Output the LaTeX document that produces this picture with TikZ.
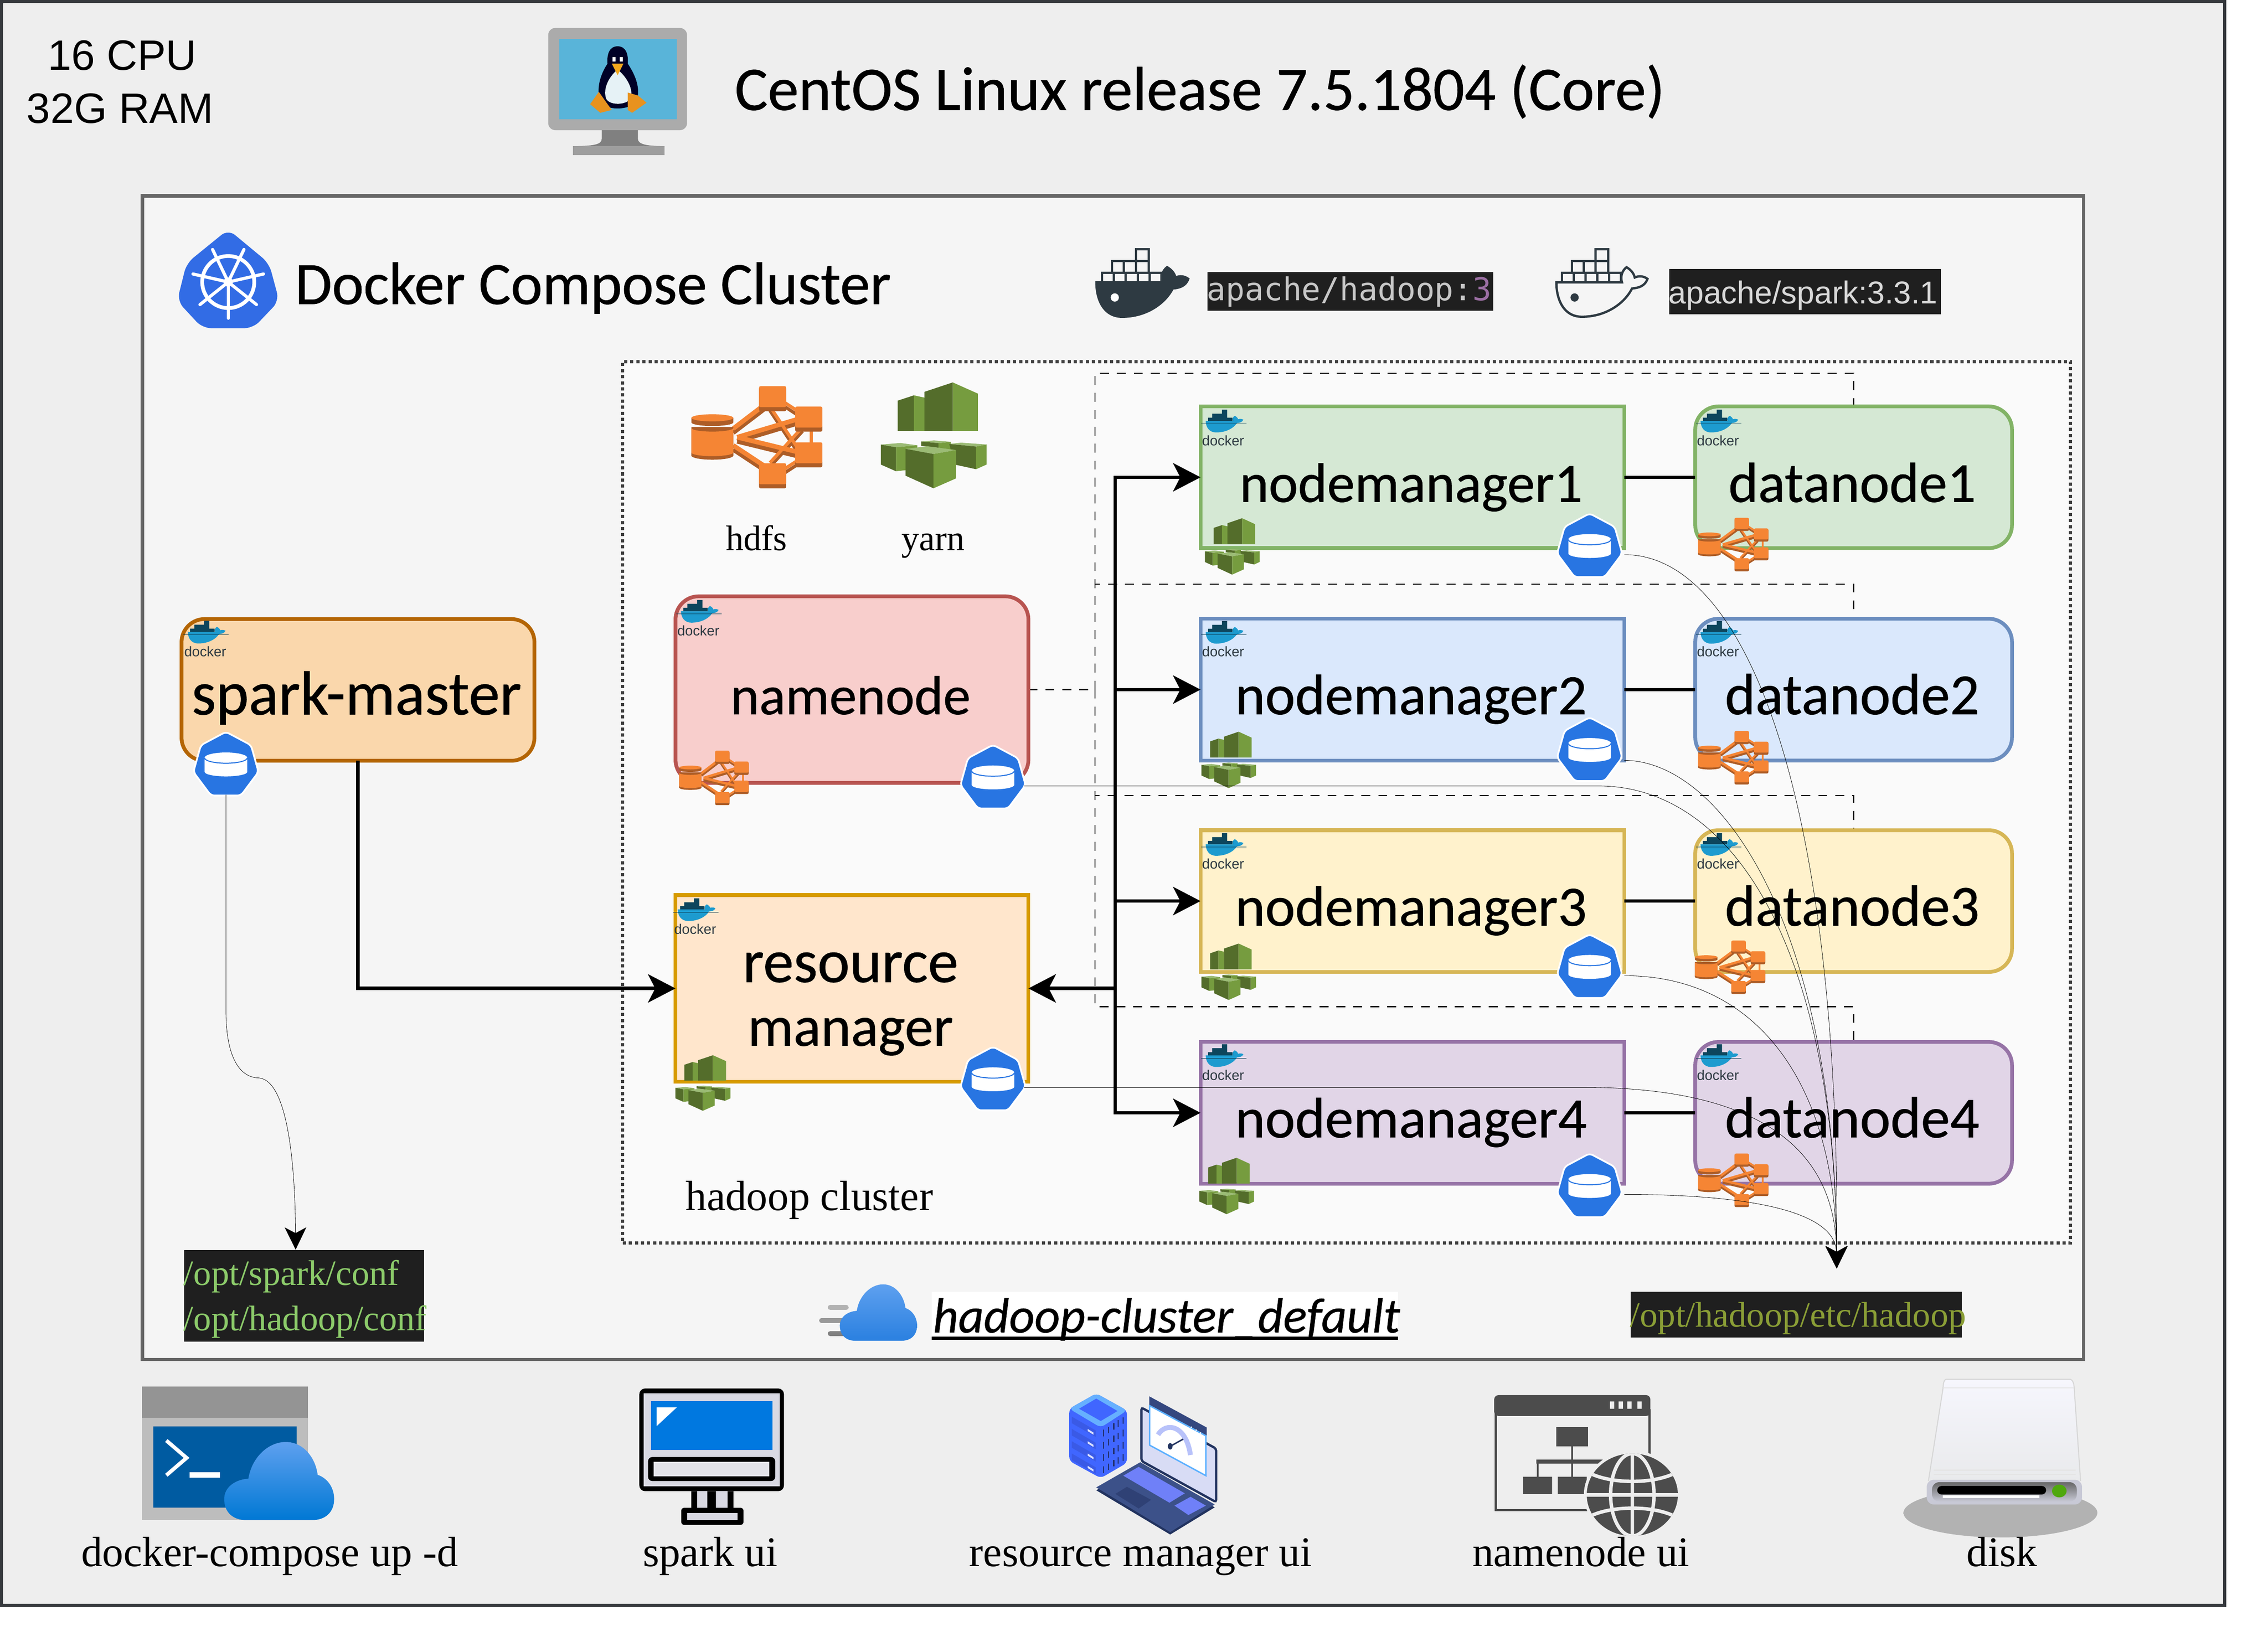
\documentclass[tikz,border=0pt]{standalone}
\usepackage{fontspec}
\setmainfont{Liberation Serif}
\newfontfamily\helv{Liberation Sans}
\newfontfamily\mymono{DejaVu Sans Mono}
\newfontfamily\comic[FakeBold=0.6]{Carlito}
\usetikzlibrary{arrows.meta,shadings}
\pgfdeclarelayer{bg}\pgfdeclarelayer{conn}\pgfsetlayers{bg,conn,main}
\newcommand\rw[2]{\resizebox{#1pt}{!}{#2}}
\newcommand\cw[2]{\resizebox{#1pt}{!}{\comic #2}\kern1pt}
\definecolor{orng}{HTML}{F58534}\definecolor{orngd}{HTML}{AD5D27}
\definecolor{ygl}{HTML}{769C3F}\definecolor{ygm}{HTML}{546D2B}\definecolor{ygt}{HTML}{9BBB75}
\definecolor{hexb}{HTML}{2875E2}\definecolor{kub}{HTML}{326CE5}
\definecolor{whb}{HTML}{1D9BCF}\definecolor{whd}{HTML}{2E3A42}
\definecolor{pan}{HTML}{EEEEEE}\definecolor{inn}{HTML}{F5F5F5}\definecolor{clu}{HTML}{FAFAFA}
\definecolor{n1f}{HTML}{D5E8D4}\definecolor{n1d}{HTML}{82B366}
\definecolor{n2f}{HTML}{DAE8FC}\definecolor{n2d}{HTML}{6C8EBF}
\definecolor{n3f}{HTML}{FFF2CC}\definecolor{n3d}{HTML}{D6B656}
\definecolor{n4f}{HTML}{E1D5E7}\definecolor{n4d}{HTML}{9673A6}
\definecolor{nnf}{HTML}{F8CECC}\definecolor{nnd}{HTML}{B85450}
\definecolor{rmf}{HTML}{FFE6CC}\definecolor{rmd}{HTML}{D79B00}
\definecolor{spf}{HTML}{FAD7AC}\definecolor{spd}{HTML}{B46504}
\definecolor{cscr}{HTML}{59B4D9}\definecolor{cbel}{HTML}{E6F2F6}\definecolor{cft}{HTML}{E8921E}\definecolor{cbk}{HTML}{F2A81D}
\definecolor{cc1}{HTML}{5EA0EF}\definecolor{cc2}{HTML}{2A80E0}\definecolor{cc3}{HTML}{0078D4}\definecolor{cpan}{HTML}{005BA1}
\definecolor{mg}{HTML}{D9D9E3}\definecolor{mb}{HTML}{0078E0}\definecolor{mg2}{HTML}{E3E3E9}
\definecolor{bl1}{HTML}{4066FF}\definecolor{bl2}{HTML}{3A5AE6}\definecolor{bl3}{HTML}{66B0FF}\definecolor{bl5}{HTML}{1F2A60}
\definecolor{lp1}{HTML}{34477F}\definecolor{lp2}{HTML}{22335F}\definecolor{lp3}{HTML}{D8DCF5}\definecolor{lp4}{HTML}{B8C2FA}\definecolor{lp5}{HTML}{3C5189}\definecolor{lp6}{HTML}{6F80F8}\definecolor{lp7}{HTML}{2F4175}\definecolor{lp8}{HTML}{5CB0FF}
\definecolor{dk1}{HTML}{F6F6FD}\definecolor{dk2}{HTML}{E9EAEC}\definecolor{dk3}{HTML}{C8C9D6}\definecolor{dk4}{HTML}{666666}\definecolor{led}{HTML}{4FA80E}\definecolor{outl}{HTML}{36393D}
\definecolor{shd}{HTML}{B2B2B2}
\pgfdeclareradialshading{diskshadow}{\pgfpoint{0bp}{0bp}}{color(0bp)=(shd); color(26bp)=(shd); color(50bp)=(pan)}
\tikzset{
 x=.5pt,y=-.5pt,
 frame/.style={draw,line width=1.2pt,outer sep=0pt},
 plainbox/.style={draw,line width=1.3pt,inner sep=0pt,outer sep=0pt,align=center},
 box/.style={plainbox,text height=17pt,text depth=0pt},
 rbox/.style={box,rounded corners=8pt},
 nmw/.style={minimum width=146.5pt,minimum height=49pt},
 dnw/.style={minimum width=109.5pt,minimum height=49pt},
 nnw/.style={minimum width=122pt,minimum height=64.5pt},
 link/.style={line width=1.2pt},
 bigarrow/.style={link,-{Stealth[length=9.5pt,width=9.8pt,inset=2.5pt]}},
 hair/.style={line width=.13pt,black},
 hairarrow/.style={hair,-{Stealth[length=7.7pt,width=7.5pt,inset=2pt]}},
 tree/.style={line width=.35pt,black,dash pattern=on 3.1pt off 2.75pt},
 lab/.style={inner sep=0pt,outer sep=0pt,anchor=base,font=\fontsize{14.6pt}{16pt}\selectfont},
 labl/.style={lab,anchor=base west},
}
% whale icon: x y w h colour linewidth hullfill windowfill eyefill
\newcommand\whaleicon[9]{\begin{scope}[shift={(#1,#2)},xscale=#3,yscale=#4]
 \draw[#5,fill=#7,line width=#6] (0,.5) -- (.72,.5) .. controls (.70,.42) and (.72,.33) .. (.77,.28) .. controls (.82,.32) and (.85,.37) .. (.86,.43) .. controls (.91,.40) and (.96,.41) .. (1,.45) .. controls (.97,.56) and (.90,.58) .. (.83,.59) .. controls (.75,.80) and (.55,1) .. (.28,1) .. controls (.08,1) and (0,.75) .. (0,.5) -- cycle;
 \foreach \a/\b/\c/\d in {.43/.02/.57/.19,.17/.19/.30/.36,.30/.19/.43/.36,.43/.19/.57/.36,.06/.36/.19/.5,.19/.36/.32/.5,.32/.36/.45/.5,.45/.36/.58/.5,.58/.36/.71/.5}
  \draw[#5,fill=#8,line width=#6] (\a,\b) rectangle (\c,\d);
 \fill[#9] (.2,.72) ellipse (.045 and .06);
\end{scope}}
\newcommand\dockersmall[2]{\begin{scope}[shift={(#1,#2)}]
 \begin{scope}[shift={(3,0)},xscale=26,yscale=16]
 \fill[whb] (0,.5) -- (.72,.5) .. controls (.70,.42) and (.72,.33) .. (.77,.28) .. controls (.82,.32) and (.85,.37) .. (.86,.43) .. controls (.91,.40) and (.96,.41) .. (1,.45) .. controls (.97,.56) and (.90,.58) .. (.83,.59) .. controls (.75,.80) and (.55,1) .. (.28,1) .. controls (.08,1) and (0,.75) .. (0,.5) -- cycle;
 \fill[black!55!whb] (.43,.02) rectangle (.57,.19) (.17,.19) rectangle (.57,.36) (.06,.36) rectangle (.71,.5);
 \draw[whb!40!black,line width=.15pt] (-.12,.62) -- (1.08,.62);
 \end{scope}
 \node[inner sep=0pt,anchor=base,text=whd,font=\helv] (dk) at (15,25) {\rw{14.5}{docker}};
\end{scope}}
\newcommand\hdfsicon[4]{\begin{scope}[shift={(#1,#2)},xscale=#3,yscale=#4]
 \pgfmathsetlengthmacro\hlw{#3*.0175pt}
 \foreach \ya in {.04,0}{
  \ifdim\ya pt>0pt\def\hc{orngd}\else\def\hc{orng}\fi
  \draw[\hc,line width=\hlw] (.32,.415+\ya) -- (.55,.19+\ya) (.32,.58+\ya) -- (.55,.775+\ya) (.35,.5+\ya) -- (.83,.316+\ya) (.35,.5+\ya) -- (.83,.65+\ya);
  \draw[\hc,line width=.7*\hlw] (.6,.2+\ya) -- (.85,.68+\ya) (.6,.75+\ya) -- (.85,.4+\ya) (.7,.15+\ya) -- (.82,.25+\ya) (.7,.82+\ya) -- (.82,.72+\ya);
 }
 \draw[orng,line width=.7*\hlw] (.917,.4) -- (.917,.56);
 \foreach \a/\b/\c/\d in {.517/0/.724/.205,.793/.2/1/.405,.793/.55/1/.755,.517/.755/.724/.96}{
  \fill[orngd,rounded corners=.5pt] (\a,\b+.01) rectangle (\c,\d+.04);
  \fill[orng,rounded corners=.5pt] (\a,\b) rectangle (\c,\d);}
 \fill[orngd] (0,.4) -- (0,.68) arc[x radius=.16,y radius=.035,start angle=180,end angle=0] -- (.32,.4) -- cycle;
 \fill[orngd] (0,.65) -- (0,.68) arc[x radius=.16,y radius=.04,start angle=180,end angle=0] -- (.32,.65) -- cycle;
 \fill[orng] (0,.41) arc[x radius=.16,y radius=.035,start angle=180,end angle=0] -- (.32,.65) arc[x radius=.16,y radius=.035,start angle=0,end angle=180] -- cycle;
 \fill[orngd] (0,.31) -- (0,.355) arc[x radius=.16,y radius=.035,start angle=180,end angle=0] -- (.32,.31) -- cycle;
 \fill[orng] (.16,.31) ellipse (.16 and .035);
\end{scope}}
\newcommand\yarnicon[4]{\begin{scope}[shift={(#1,#2)},xscale=#3,yscale=#4]
 \fill[ygm] (.16,.172) -- (.313,.122) -- (.313,.458) -- (.16,.458) -- cycle;
 \fill[ygl] (.313,.122) -- (.413,.144) -- (.413,.458) -- (.313,.458) -- cycle;
 \fill[ygm] (.413,.089) -- (.681,0) -- (.681,.458) -- (.413,.458) -- cycle;
 \fill[ygl] (.681,0) -- (.919,.106) -- (.919,.458) -- (.681,.458) -- cycle;
 \fill[ygt] (.383,.558) -- (.504,.548) -- (.661,.561) -- (.545,.574) -- cycle;
 \fill[ygm] (.383,.558) -- (.545,.574) -- (.545,.617) -- (.383,.6) -- cycle;
 \fill[ygl] (.545,.574) -- (.661,.561) -- (.661,.639) -- (.545,.617) -- cycle;
 \fill[ygt] (0,.587) -- (.185,.572) -- (.345,.594) -- (.143,.613) -- cycle;
 \fill[ygm] (0,.587) -- (.143,.613) -- (.143,.839) -- (0,.776) -- cycle;
 \fill[ygl] (.143,.613) -- (.345,.594) -- (.345,.817) -- (.143,.839) -- cycle;
 \fill[ygt] (.647,.581) -- (.76,.569) -- (1,.586) -- (.902,.606) -- cycle;
 \fill[ygm] (.647,.581) -- (.902,.606) -- (.902,.82) -- (.70,.776) -- cycle;
 \fill[ygl] (.902,.606) -- (1,.586) -- (1,.776) -- (.902,.82) -- cycle;
 \fill[ygt] (.234,.628) -- (.440,.603) -- (.713,.639) -- (.498,.676) -- cycle;
 \fill[ygm] (.234,.628) -- (.498,.676) -- (.498,1) -- (.234,.881) -- cycle;
 \fill[ygl] (.498,.676) -- (.713,.639) -- (.713,.906) -- (.498,1) -- cycle;
\end{scope}}
\newcommand\hexvol[2]{\begin{scope}[shift={(#1-22.5,#2-22)},xscale=45,yscale=44]
 \draw[white,fill=hexb,line width=.6pt,rounded corners=1.2pt] (.5,0) -- (.885,.21) -- (1,.63) -- (.73,1) -- (.27,1) -- (0,.63) -- (.115,.21) -- cycle;
 \fill[white] (.173,.407) -- (.173,.63) arc[x radius=.327,y radius=.07,start angle=180,end angle=0] -- (.827,.407) -- cycle;
 \fill[white] (.5,.407) ellipse (.327 and .083);
 \draw[hexb,line width=.35pt] (.173,.41) arc[x radius=.327,y radius=.083,start angle=180,end angle=0];
\end{scope}}
\newcommand\cloudicon[6]{\begin{scope}[shift={(#1,#2)},xscale=#3,yscale=#4]
 \shade[top color=#5,bottom color=#6] (.2,1) .. controls (.08,1) and (0,.9) .. (0,.73) .. controls (0,.58) and (.1,.48) .. (.22,.47) .. controls (.25,.2) and (.4,0) .. (.56,0) .. controls (.72,0) and (.83,.2) .. (.85,.42) .. controls (.95,.47) and (1,.6) .. (1,.73) .. controls (1,.9) and (.92,1) .. (.8,1) -- cycle;
\end{scope}}
\begin{document}
\begin{tikzpicture}
\useasboundingbox (0,0) rectangle (1568,1124.15);
\begin{pgfonlayer}{bg}
 \fill[white] (0,0) rectangle (1568,1124.15);
 \node[frame,draw=outl,fill=pan,minimum width=768.5pt,minimum height=554.5pt,inner sep=0pt,anchor=north west] (outer) at (1,1) {};
 \node[frame,draw=black!60,fill=inn,minimum width=671pt,minimum height=402.3pt,inner sep=0pt,anchor=north west] (inner) at (98.5,135.4) {};
 \node[draw=black!75,fill=clu,line width=1.1pt,outer sep=0pt,dash pattern=on 1.1pt off 1pt,minimum width=500.5pt,minimum height=304.7pt,inner sep=0pt,anchor=north west] (cluster) at (430.5,250) {};
\end{pgfonlayer}
% service boxes
\node[box,nmw,draw=n1d,fill=n1f] (nm1) at (976.5,330) {\cw{118.5}{nodemanager1}};
\node[box,nmw,draw=n2d,fill=n2f] (nm2) at (976.5,476.8) {\cw{121.5}{nodemanager2}};
\node[box,nmw,draw=n3d,fill=n3f] (nm3) at (976.5,623) {\cw{121.5}{nodemanager3}};
\node[box,nmw,draw=n4d,fill=n4f] (nm4) at (976.5,769.4) {\cw{121.5}{nodemanager4}};
\node[rbox,dnw,draw=n1d,fill=n1f] (dn1) at (1281.5,330) {\cw{85.5}{datanode1}};
\node[rbox,dnw,draw=n2d,fill=n2f] (dn2) at (1281.5,476.8) {\cw{88}{datanode2}};
\node[rbox,dnw,draw=n3d,fill=n3f] (dn3) at (1281.5,623) {\cw{88}{datanode3}};
\node[rbox,dnw,draw=n4d,fill=n4f] (dn4) at (1281.5,769.4) {\cw{88}{datanode4}};
\node[rbox,nnw,draw=nnd,fill=nnf] (nn) at (589,476.8) {\cw{83}{namenode}};
\node[plainbox,nnw,draw=rmd,fill=rmf] (rm) at (589,683.4) {\rule{0pt}{21pt}\cw{74.5}{resource}\\[10pt]\cw{71}{manager}};
\node[rbox,draw=spd,fill=spf,minimum width=122pt,minimum height=49pt] (spark) at (247.5,477) {\cw{114}{spark-master}};
% dashed tree behind the boxes
\coordinate (bus) at (757,476.8);
\coordinate (r1) at (1281.5,258);
\coordinate (r2) at (1281.5,404);
\coordinate (r3) at (1281.5,550);
\coordinate (r4) at (1281.5,696);
\begin{pgfonlayer}{conn}
 \draw[tree] (nn.east) -- (bus);
 \draw[tree] (bus) |- (r1) -- (dn1.north);
 \draw[tree] (bus) |- (r2) -- (dn2.north);
 \draw[tree] (bus) |- (r3) -- (dn3.north);
 \draw[tree] (bus) |- (r4) -- (dn4.north);
\end{pgfonlayer}
% thick connectors
\coordinate (trunk) at (771,683.4);
\draw[bigarrow] (trunk) -- (rm.east);
\draw[bigarrow] (trunk) |- (nm1.west);
\draw[bigarrow] (trunk) |- (nm2.west);
\draw[bigarrow] (trunk) |- (nm3.west);
\draw[bigarrow] (trunk) |- (nm4.west);
\draw[bigarrow] (spark.south) |- (rm.west);
\draw[link] (nm1) -- (dn1);
\draw[link] (nm2) -- (dn2);
\draw[link] (nm3) -- (dn3);
\draw[link] (nm4) -- (dn4);
% docker marks
\dockersmall{830.6}{283}\dockersmall{830.6}{429}\dockersmall{830.6}{575.7}\dockersmall{830.6}{721.7}
\dockersmall{1172.7}{283}\dockersmall{1172.7}{429}\dockersmall{1172.7}{575.7}\dockersmall{1172.7}{721.7}
\dockersmall{467.8}{414.5}\dockersmall{126.9}{428.9}\dockersmall{465.6}{620.8}
% hdfs and yarn marks
\hdfsicon{478}{267}{90.5}{70.6}
\yarnicon{609}{264.4}{73}{73.2}
\hdfsicon{1174}{358}{48.6}{37}\hdfsicon{1174}{505.4}{48.6}{37}\hdfsicon{1171.8}{650.3}{48.6}{37}\hdfsicon{1174}{797.6}{48.6}{37}\hdfsicon{469.6}{519}{48}{37.7}
\yarnicon{833}{358.3}{37.8}{39}\yarnicon{830.6}{505.9}{37.8}{39}\yarnicon{830.6}{652.4}{37.8}{39}\yarnicon{829.2}{800.5}{37.8}{39}\yarnicon{467}{729.6}{38}{38.4}
\node[lab,font=\fontsize{12.3pt}{14pt}\selectfont] (hdfslab) at (523,380.5) {hdfs};
\node[lab,font=\fontsize{12.3pt}{14pt}\selectfont] (yarnlab) at (645,380.5) {yarn};
\node[labl] (clulab) at (474,836.9) {hadoop cluster};
% volume marks
\hexvol{156.2}{528}\hexvol{686.5}{537}\hexvol{686.5}{745.7}
\hexvol{1099}{377}\hexvol{1099}{518}\hexvol{1099}{668}\hexvol{1099}{819.5}
% mount targets
\node[fill=black!88,minimum width=82.9pt,minimum height=31.6pt,inner sep=0pt,anchor=north west] (sparkconf) at (127,864) {};
\node[labl,font=\fontsize{12.3pt}{14pt}\selectfont] (c1) at (127,888.5) {\textcolor[HTML]{8CCB6A}{/opt/spark/conf}};
\node[labl,font=\fontsize{12.3pt}{14pt}\selectfont] (c2) at (127,920) {\textcolor[HTML]{8CCB6A}{/opt/hadoop/conf}};
\node[fill=black!88,minimum width=114.5pt,minimum height=15.85pt,inner sep=0pt,anchor=north west] (hadoopconf) at (1127,892.8) {};
\node[labl,font=\fontsize{12.3pt}{14pt}\selectfont] (c3) at (1127,917.3) {\textcolor[HTML]{8A9E36}{/opt/hadoop/etc/hadoop}};
% thin mount curves
\coordinate (etc) at (1269.8,877);
\coordinate (spt) at (204.4,864);
\coordinate (nm1v) at (1123,383.5);
\coordinate (nm2v) at (1123,525.7);
\coordinate (nm3v) at (1123,674.6);
\coordinate (nm4v) at (1123,825.8);
\coordinate (nnv) at (708,543.4);
\coordinate (rmv) at (708,751.8);
\coordinate (spv) at (156.2,549.5);
\draw[hairarrow] (nm1v) .. controls (1210,383.5) and (1272,560) .. (etc);
\draw[hairarrow] (nm2v) .. controls (1190,526) and (1269,640) .. (etc);
\draw[hairarrow] (nm3v) .. controls (1215,674.6) and (1269,750) .. (etc);
\draw[hairarrow] (nm4v) .. controls (1220,826) and (1269,840) .. (etc);
\draw[hairarrow] (nnv) -- (1105,543.4) .. controls (1200,543.4) and (1269,660) .. (etc);
\draw[hairarrow] (rmv) -- (1095,751.8) .. controls (1210,752) and (1269,790) .. (etc);
\draw[hairarrow] (spv) -- (156.2,700) .. controls (156.5,730) and (165,745) .. (179,745.3) .. controls (198,747) and (204,800) .. (spt);
% header
\node[labl,font=\helv\fontsize{14.7pt}{16pt}\selectfont] (cpu) at (33,48.4) {16 CPU};
\node[labl,font=\helv\fontsize{14.7pt}{16pt}\selectfont] (ram) at (18.5,85.1) {32G RAM};
\node[labl] (centos) at (508,76) {\cw{321.5}{CentOS Linux release 7.5.1804 (Core)}};
\node[labl] (dcc) at (204,210.2) {\cw{206}{Docker Compose Cluster}};
% linux monitor
\fill[black!33,rounded corners=2.5pt] (379,19.3) rectangle (475,90);
\fill[black!50] (416,90) -- (441,90) -- (441,96) .. controls (441,100) and (448,101) .. (459.5,101) -- (396,101) .. controls (410,101) and (416,100) .. (416,96) -- cycle;
\fill[black!38] (396,101) rectangle (459.5,107.3);
\fill[cscr] (386.8,27) rectangle (468,82.5);
\fill[black!85!blue] (427,32) .. controls (421,32) and (419.5,38) .. (420,44) .. controls (416,50) and (413,58) .. (414,66) .. controls (414,72) and (420,75) .. (427,75) .. controls (434,75) and (441,72) .. (441,66) .. controls (442,58) and (438,50) .. (434,44) .. controls (434.5,38) and (433,32) .. (427,32) -- cycle;
\fill[cbel] (427,48) .. controls (420,54) and (417,62) .. (419,68) .. controls (421,73) and (433,73) .. (436,68) .. controls (438,62) and (434,54) .. (427,48) -- cycle;
\fill[cft] (414,63.5) -- (420,72) -- (423,76) -- (415,78) -- (408,72) -- cycle;
\fill[cft] (434,64) -- (441,66) -- (447,71) -- (437,78) -- (434,76) -- cycle;
\fill[cbk] (423,44) -- (431,44) -- (427,52) -- cycle;
\fill[white] (423.5,39.5) rectangle (425.5,42.5) (428.5,39.5) rectangle (430.5,42.5);
% kubernetes mark
\fill[kub,rounded corners=3pt] (157.8,158.6) -- (186,182) -- (193,208) -- (175,226.9) -- (140,226.9) -- (122.5,208) -- (129,182) -- cycle;
\draw[white,line width=1.3pt] (157.8,195) ellipse (18 and 18);
\fill[white] (157.8,195) circle (3.2);
\foreach \i in {0,...,6}{\draw[white,line width=1.1pt,line cap=round] (157.8,195) -- ++({90+\i*360/7}:25);}
% images
\whaleicon{758}{171.4}{63.5}{47.6}{whd}{.8pt}{whd}{inn}{white}
\whaleicon{1076}{171.4}{63}{47.6}{whd}{.8pt}{inn}{inn}{whd}
\node[fill=black!88,minimum width=98.7pt,minimum height=13.35pt,inner sep=0pt,anchor=north west] (himg) at (834.4,187.8) {};
\node[labl,font=\mymono\fontsize{10.9pt}{12pt}\selectfont] (htxt) at (834.4,207.6) {\textcolor{black!22}{apache/hadoop:}\textcolor[HTML]{9B6FA3}{3}};
\node[fill=black!88,minimum width=94pt,minimum height=15.75pt,inner sep=0pt,anchor=north west] (simg) at (1153.6,185.4) {};
\node[labl,font=\helv] (stxt) at (1153.6,209.8) {\textcolor{black!15}{\rw{93}{apache/spark:3.3.1}}};
% network
\draw[black!30,line width=1.7pt,line cap=round] (574,904) -- (585,904);
\draw[black!40,line width=1.7pt,line cap=round] (568,913) -- (585,913);
\draw[black!50,line width=1.7pt,line cap=round] (574,922) -- (585,922);
\cloudicon{580.6}{888}{53.4}{39}{cc1}{cc2}
\node[fill=white,minimum width=161.2pt,minimum height=16.2pt,inner sep=0pt,outer sep=0pt,anchor=north west] (netbg) at (644,893) {};
\node[labl] (net) at (645,921.3) {\rw{161.5}{\comic\itshape hadoop-cluster\_default}};
\draw[line width=1.1pt] (netbg.south west) -- (netbg.south east);
% docker-compose window
\fill[black!26] (98,980.4) rectangle (213,1051);
\fill[black!42] (98,958.6) rectangle (213,980.4);
\fill[cpan] (106,986.3) rectangle (205,1042.5);
\draw[white,line width=1.3pt] (115,996) -- (129,1008) -- (115,1020);
\fill[white] (131,1017.8) rectangle (152,1021.6);
\cloudicon{155}{997}{76}{54}{cc1}{cc3}
% spark ui monitor
\fill[black,rounded corners=2pt] (442,960) rectangle (542,1031);
\fill[mg] (445,963.5) rectangle (539,1027.5);
\fill[mb] (450,968.6) rectangle (534,1002.4);
\fill[white] (454,973) -- (468,973) -- (454,986) -- cycle;
\fill[black,rounded corners=1.5pt] (448,1007.4) rectangle (536,1024);
\fill[mg2] (452,1010.6) rectangle (532,1020.7);
\fill[black] (478,1031) rectangle (507,1045);
\fill[mg] (482,1031) rectangle (489,1045) (495,1031) rectangle (503,1045);
\fill[black,rounded corners=1pt] (471,1042.5) rectangle (514,1054.3);
\fill[mg] (475,1046) rectangle (510,1051);
% resource manager ui: building
\fill[bl1,rounded corners=1.5pt] (739.2,974) -- (757.9,963.4) -- (779.2,975.2) -- (779.2,1011.4) -- (761,1022) -- (739.2,1010.1) -- cycle;
\fill[bl3,rounded corners=1.5pt] (739.2,974) -- (757.9,963.4) -- (779.2,975.2) -- (761,987) -- cycle;
\fill[bl1] (746,974) -- (757.9,967) -- (772.6,975.6) -- (761,982.5) -- cycle;
\foreach \k in {0,...,3}{
 \fill[bl2] (741,{979.5+\k*8.5}) -- (757.5,{989+\k*8.5}) -- (757.5,{993.5+\k*8.5}) -- (741,{984+\k*8.5}) -- cycle;
 \fill[white!80!bl1] (752,{988+\k*8.5}) -- (756,{990.5+\k*8.5}) -- (756,{992+\k*8.5}) -- (752,{989.5+\k*8.5}) -- cycle;
 \foreach \xx/\yy in {763/988.5,766.5/986.5,770/984,773/982,776.5/980}{
  \draw[bl5,line width=.35pt] (\xx,{\yy+\k*8.5}) -- (\xx,{\yy+4.5+\k*8.5});}}
% resource manager ui: laptop
\draw[lp2,fill=lp3,line width=.8pt,rounded corners=.8pt] (789.1,973.2) -- (840.8,1001.6) -- (840.8,1038.6) -- (789.1,1010.1) -- cycle;
\fill[lp1] (794.5,965.4) -- (834.3,987) -- (834.3,992.7) -- (794.5,971.5) -- cycle;
\draw[lp8,fill=white,line width=.5pt] (794.8,971.9) -- (833.7,992.7) -- (833.7,1020.3) -- (794.8,999.2) -- cycle;
\fill[white] (823.6,986.8) circle (.6) (827,988.8) circle (.6) (830,990.8) circle (.6);
\draw[lp4,line width=1.7pt] (800.6,992) .. controls (806,983) and (820,985) .. (823,1006);
\draw[lp2,line width=.5pt] (809,1000) -- (818,995);
\fill[lp2] (809,1000) ellipse (1.6 and 2.2);
\fill[lp2] (757.9,1030.4) -- (788.3,1013) -- (839.8,1042.2) -- (809,1061) -- cycle;
\fill[lp5] (757.9,1028.4) -- (788.3,1011) -- (839.8,1040.2) -- (809,1059.3) -- cycle;
\fill[lp6] (776.6,1020.3) -- (787.2,1014.2) -- (819.1,1032.5) -- (808.5,1039) -- cycle;
\fill[lp6] (812,1041) -- (823.1,1034.9) -- (833.7,1041) -- (821.6,1047.5) -- cycle;
\fill[lp7] (771.1,1032.9) -- (779.1,1028) -- (795.8,1037) -- (787.2,1043) -- cycle;
% namenode ui
\draw[black!70,fill=pan,line width=.8pt] (1034,975) rectangle (1140.5,1044);
\fill[black!70,rounded corners=1.5pt] (1033,964.6) rectangle (1141,979);
\fill[pan] (1113,969) rectangle (1116,974) (1119,969) rectangle (1122,974) (1125,969) rectangle (1128,974) (1132,969) rectangle (1135,974);
\fill[black!70] (1076,986.7) rectangle (1098,1000);
\draw[black!70,line width=.6pt] (1087,1000) -- (1087,1009) (1063,1010) -- (1063,1021) (1087,1010) -- (1087,1021);
\fill[black!70] (1062,1009) rectangle (1108,1012);
\fill[black!70] (1053,1021) rectangle (1073,1033) (1077,1021) rectangle (1097,1033);
\fill[pan] (1128.5,1033.5) ellipse (33.5 and 30.5);
\fill[black!70] (1128.5,1033.5) ellipse (31.5 and 28.5);
\begin{scope}
 \clip (1128.5,1033.5) ellipse (31.5 and 28.5);
 \draw[pan,line width=1.2pt] (1128.5,1033.5) ellipse (15 and 28.5) (1128.5,1005) -- (1128.5,1062);
 \draw[pan,line width=1.2pt] (1097,1033.5) -- (1160,1033.5);
 \draw[pan,line width=1.2pt] (1100,1019) .. controls (1115,1026) and (1142,1026) .. (1157,1019);
 \draw[pan,line width=1.2pt] (1100,1048) .. controls (1115,1041) and (1142,1041) .. (1157,1048);
\end{scope}
% disk
\shade[shading=diskshadow] (1383,1046) ellipse (67 and 17);
\shade[top color=dk1,bottom color=dk2] (1345.3,953.6) -- (1431.3,953.6) .. controls (1433,954) and (1434,957) .. (1434,960) -- (1438.4,1024) -- (1333.2,1024) -- (1343.3,960) .. controls (1343.3,957) and (1344,954) .. (1345.3,953.6) -- cycle;
\draw[black!16,line width=.35pt] (1345.3,953.6) -- (1431.3,953.6) .. controls (1433,954) and (1434,957) .. (1434,960) -- (1438.4,1024) (1333.2,1024) -- (1343.3,960) .. controls (1343.3,957) and (1344,954) .. (1345.3,953.6);
\draw[black!10,line width=.35pt] (1343.5,959.5) -- (1434,959.5) (1337,1016.5) -- (1435,1016.5) (1337,1019.5) -- (1435,1019.5);
\fill[dk3,rounded corners=2.5pt] (1332,1023.1) rectangle (1439.4,1040.2);
\shade[top color=dk4,bottom color=dk3,rounded corners=2.5pt] (1335.7,1024.8) rectangle (1435.8,1038.2);
\fill[black,rounded corners=1.5pt] (1339.3,1027.4) rectangle (1414.6,1033.3);
\fill[white] (1343,1034) rectangle (1410,1035.7);
\fill[led] (1423.7,1030.9) ellipse (5 and 4.4);
% bottom labels
\node[lab] (l1) at (186.5,1083) {docker-compose up -d};
\node[lab] (l2) at (491,1083) {spark ui};
\node[lab] (l3) at (788.5,1083) {resource manager ui};
\node[lab] (l4) at (1093,1083) {namenode ui};
\node[lab] (l5) at (1384,1083) {disk};
\end{tikzpicture}
\end{document}
